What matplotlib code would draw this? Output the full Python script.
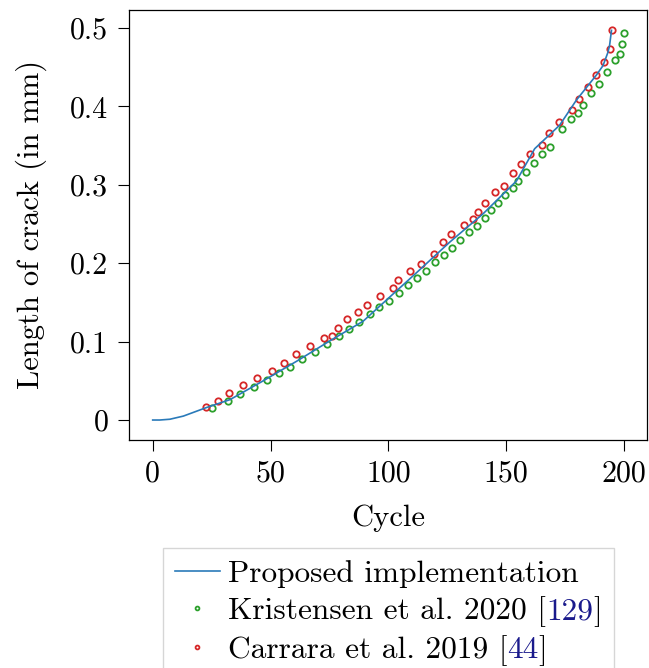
import matplotlib
matplotlib.use("Agg")
import matplotlib.pyplot as plt
from matplotlib.transforms import IdentityTransform

plt.rcParams['font.family'] = 'serif'
plt.rcParams['font.serif'] = ['cmr10']
plt.rcParams['axes.formatter.use_mathtext'] = True
plt.rcParams['mathtext.fontset'] = 'cm'

# Proposed implementation (line)
prop_x = [0, 3, 7.3, 13.0, 22.9, 32.8, 46.9, 61.1, 75.2, 89.3, 112.0, 126.1, 140.2,
          154.4, 162.1, 172.7, 179.8, 188.3, 191.1, 193.2, 193.9, 194.7]
prop_y = [0, 0, 0.001, 0.005, 0.016, 0.026, 0.050, 0.075, 0.101, 0.126, 0.188, 0.227, 0.263,
          0.305, 0.346, 0.376, 0.408, 0.440, 0.452, 0.469, 0.478, 0.497]

# Kristensen et al. 2020 (green)
kri_x = [25.3, 32.1, 37.1, 42.8, 48.6, 53.7, 58.4, 63.3, 68.8, 74.0, 78.9, 83.1, 87.5, 92.2,
         96.1, 100.2, 104.7, 108.4, 112.2, 116.0, 119.7, 123.7, 127.2, 130.6, 134.1, 137.5,
         140.9, 143.5, 146.6, 149.7, 153.1, 155.2, 158.6, 162.0, 165.2, 168.5, 173.9, 177.7,
         180.5, 182.4, 186.2, 189.4, 193.0, 196.2, 198.2, 199.2, 199.8]
kri_y = [0.0149, 0.0248, 0.0328, 0.0422, 0.0507, 0.0597, 0.0677, 0.0776, 0.0869, 0.0967,
         0.1073, 0.1159, 0.1252, 0.1347, 0.144, 0.152, 0.162, 0.172, 0.181, 0.190, 0.201,
         0.210, 0.220, 0.230, 0.240, 0.248, 0.258, 0.268, 0.277, 0.287, 0.296, 0.305, 0.316,
         0.328, 0.339, 0.348, 0.371, 0.384, 0.391, 0.402, 0.417, 0.429, 0.444, 0.459, 0.467,
         0.479, 0.494]

# Carrara et al. 2019 (red)
car_x = [22.5, 27.8, 32.5, 38.4, 44.4, 50.7, 55.8, 60.9, 66.8, 72.9, 75.9, 78.7, 82.5, 87.1,
         91.0, 96.3, 101.8, 104.3, 109.0, 113.8, 119.3, 123.2, 126.6, 131.9, 135.8, 138.0,
         140.9, 145.3, 149.1, 152.9, 156.3, 160.3, 165.4, 168.2, 172.3, 177.8, 180.7, 184.6,
         188.0, 191.6, 194.2, 194.9]
car_y = [0.0171, 0.0243, 0.0350, 0.0443, 0.0533, 0.0622, 0.0728, 0.0848, 0.0945, 0.1040,
         0.1066, 0.1175, 0.1283, 0.1372, 0.1465, 0.158, 0.168, 0.179, 0.190, 0.199, 0.212,
         0.227, 0.237, 0.249, 0.256, 0.265, 0.277, 0.291, 0.299, 0.315, 0.326, 0.339, 0.351,
         0.366, 0.380, 0.396, 0.410, 0.425, 0.440, 0.456, 0.473, 0.498]

labels = ["Proposed implementation", "Kristensen et al. 2020 [129]", "Carrara et al. 2019 [44]"]
label_parts = [None, ("Kristensen et al. 2020 [", "129", "]"), ("Carrara et al. 2019 [", "44", "]")]
yticks = [0, 0.1, 0.2, 0.3, 0.4, 0.5]
xticks = [0, 50, 100, 150, 200]

FS = 22
LFS = 22.6
fig = plt.figure(figsize=(6.49, 6.68), dpi=100)
ax = fig.add_axes([0.199, 0.342, 0.798, 0.643])

ax.plot(prop_x, prop_y, color='#2a7ab9', lw=1.2, label=labels[0], zorder=3)
ax.plot(kri_x, kri_y, ls='none', marker='o', ms=4.6, mew=1.3, mfc='none',
        color='#2ca02c', label=labels[1], zorder=2)
ax.plot(car_x, car_y, ls='none', marker='o', ms=4.6, mew=1.3, mfc='none',
        color='#d62728', label=labels[2], zorder=2)

ax.set_xticks(xticks)
ax.set_yticks(yticks)
ax.set_xticklabels([str(v) for v in xticks])
ax.set_yticklabels(["0"] + [f"{v:.1f}" for v in yticks[1:]])
ax.tick_params(labelsize=21.5, length=8, width=0.8, pad=7)
ax.set_xlabel("Cycle", fontsize=FS, labelpad=12)
ax.set_ylabel("Length of crack (in mm)", fontsize=FS, labelpad=16.5)
for s in ax.spines.values():
    s.set_linewidth(0.9)

leg = ax.legend(loc='upper center', bbox_to_anchor=(0.5, -0.2526), fontsize=LFS,
                frameon=True, fancybox=False, edgecolor='0.8', markerscale=0.6,
                handlelength=1.45, handletextpad=0.25, borderpad=0.38, labelspacing=0.26,
                borderaxespad=0)
leg.get_frame().set_linewidth(1.0)

fig.canvas.draw()
r = fig.canvas.get_renderer()
for txt, parts in zip(leg.get_texts(), label_parts):
    if parts is None:
        continue
    x, y = txt.get_transform().transform(txt.get_position())
    txt.set_alpha(0)
    colors = ['black', '#1a1a8c', 'black']
    cx = x
    for piece, c in zip(parts, colors):
        t = fig.text(cx, y, piece, transform=IdentityTransform(), fontsize=LFS,
                     color=c, ha='left', va='baseline')
        cx += t.get_window_extent(r).width

fig.savefig("out.png", dpi=100)
